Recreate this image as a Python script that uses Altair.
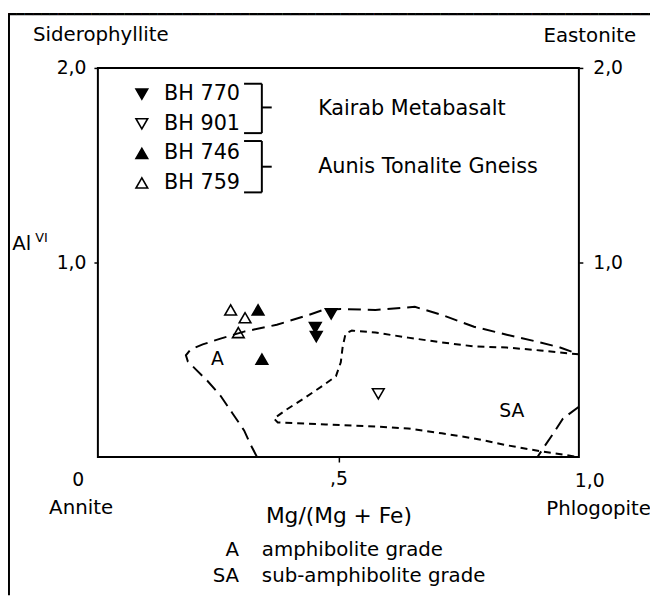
import altair as alt
import pandas as pd

FONT = "DejaVu Sans"

# ---------------- data ----------------
samples = ["BH 770", "BH 901", "BH 746", "BH 759"]
bh770_x = [0.485, 0.452, 0.454]
bh770_y = [0.736, 0.665, 0.619]
bh901_x = [0.583]
bh901_y = [0.325]
bh746_x = [0.333, 0.341]
bh746_y = [0.756, 0.503]
bh759_x = [0.276, 0.306, 0.292]
bh759_y = [0.756, 0.716, 0.640]

# amphibolite-grade field boundary (long dashes)
a_main_x = [0.331, 0.316, 0.304, 0.279, 0.255, 0.228, 0.203, 0.187, 0.183, 0.193,
            0.218, 0.255, 0.304, 0.372, 0.439, 0.468, 0.505, 0.577, 0.659, 0.715,
            0.782, 0.850, 0.920, 0.961, 1.000]
a_main_y = [0.000, 0.071, 0.137, 0.228, 0.315, 0.391, 0.452, 0.492, 0.523, 0.553,
            0.579, 0.609, 0.645, 0.680, 0.731, 0.756, 0.761, 0.756, 0.772, 0.731,
            0.670, 0.629, 0.589, 0.563, 0.528]
a_right_x = [1.000, 0.967, 0.947, 0.926, 0.914]
a_right_y = [0.259, 0.198, 0.122, 0.046, 0.000]

# sub-amphibolite-grade field boundary (short dashes)
sa_x = [1.000, 0.920, 0.850, 0.782, 0.715, 0.645, 0.577, 0.528, 0.515, 0.509,
        0.505, 0.495, 0.470, 0.427, 0.392, 0.366, 0.374, 0.474, 0.577, 0.645,
        0.715, 0.782, 0.850, 0.920, 1.000]
sa_y = [0.528, 0.548, 0.563, 0.569, 0.589, 0.614, 0.640, 0.650, 0.635, 0.569,
        0.487, 0.416, 0.371, 0.299, 0.244, 0.198, 0.178, 0.168, 0.157, 0.147,
        0.122, 0.096, 0.061, 0.030, 0.000]

# ---------------- tables ----------------
pts = pd.concat([
    pd.DataFrame({"x": bh770_x, "y": bh770_y, "sample": "BH 770"}),
    pd.DataFrame({"x": bh901_x, "y": bh901_y, "sample": "BH 901"}),
    pd.DataFrame({"x": bh746_x, "y": bh746_y, "sample": "BH 746"}),
    pd.DataFrame({"x": bh759_x, "y": bh759_y, "sample": "BH 759"}),
], ignore_index=True)

a_df = pd.concat([
    pd.DataFrame({"x": a_main_x, "y": a_main_y, "seg": "main", "o": range(len(a_main_x))}),
    pd.DataFrame({"x": a_right_x, "y": a_right_y, "seg": "right", "o": range(len(a_right_x))}),
], ignore_index=True)
sa_df = pd.DataFrame({"x": sa_x, "y": sa_y, "o": range(len(sa_x))})

W, H = 487, 394
xs = alt.Scale(domain=[0, 1], nice=False, zero=False)
ys = alt.Scale(domain=[0, 2], nice=False, zero=False)

one = pd.DataFrame({"d": [0]})

legend = alt.Legend(
    orient="none", legendX=34, legendY=16, title=None,
    labelFont=FONT, labelFontSize=21, labelColor="black", labelOffset=12,
    symbolSize=140, symbolStrokeColor="black", symbolStrokeWidth=1.6,
    symbolOpacity=1, rowPadding=8, padding=0,
)

points = alt.Chart(pts).mark_point(
    filled=True, opacity=1, size=140, strokeWidth=1.6
).encode(
    x=alt.X("x:Q", scale=xs, axis=alt.Axis(
        values=[0.5], labelExpr="',5'", tickSize=5, tickWidth=1.5, tickColor="black",
        labelPadding=8, labelFont=FONT, labelFontSize=19, labelColor="black",
        domain=False, grid=False, title="Mg/(Mg + Fe)", titleFont=FONT,
        titleFontSize=22, titleFontWeight="normal", titleColor="black", titlePadding=17)),
    y=alt.Y("y:Q", scale=ys, axis=alt.Axis(
        values=[1, 2], labelExpr="datum.value == 2 ? '2,0' : '1,0'",
        tickSize=4, tickWidth=1.5, tickColor="black",
        labelPadding=8, labelFont=FONT, labelFontSize=19, labelColor="black",
        domain=False, grid=False, title=None)),
    shape=alt.Shape("sample:N", scale=alt.Scale(
        domain=samples, range=["triangle-down", "triangle-down", "triangle-up", "triangle-up"]),
        legend=legend),
    fill=alt.Fill("sample:N", scale=alt.Scale(
        domain=samples, range=["black", "white", "black", "white"]), legend=legend),
    stroke=alt.Stroke("sample:N", scale=alt.Scale(
        domain=samples, range=["black", "black", "black", "black"]), legend=legend),
)

right_axis = alt.Chart(pts).mark_point(opacity=0).encode(
    y=alt.Y("y:Q", scale=ys, axis=alt.Axis(
        orient="right", values=[1, 2], labelExpr="datum.value == 2 ? '2,0' : '1,0'",
        tickSize=4, tickWidth=1.5, tickColor="black",
        labelPadding=10, labelFont=FONT, labelFontSize=19, labelColor="black",
        domain=False, grid=False, title=None)),
    x=alt.value(0),
)

a_lines = alt.Chart(a_df).mark_line(
    color="black", strokeWidth=2, strokeDash=[13, 7]
).encode(x=alt.X("x:Q", scale=xs), y=alt.Y("y:Q", scale=ys, axis=None),
         detail="seg:N", order="o:Q")

sa_lines = alt.Chart(sa_df).mark_line(
    color="black", strokeWidth=2, strokeDash=[7, 5]
).encode(x=alt.X("x:Q", scale=xs), y=alt.Y("y:Q", scale=ys, axis=None), order="o:Q")


def txt(s, x, y, size=20, align="center", baseline="middle", font=FONT):
    return alt.Chart(one).mark_text(
        text=s, font=font, fontSize=size, align=align, baseline=baseline, color="black"
    ).encode(x=alt.value(x), y=alt.value(y))


def seg(x1, y1, x2, y2, w=2):
    return alt.Chart(one).mark_rule(color="black", strokeWidth=w).encode(
        x=alt.value(x1), y=alt.value(y1), x2=alt.value(x2), y2=alt.value(y2))


texts = [
    txt("Siderophyllite", 3, -33),
    txt("Eastonite", 498, -32),
    txt("0", -20, 417, 19),
    txt("1,0", 498, 418, 19),
    txt("Annite", -17, 446),
    txt("Phlogopite", 507, 447),
    txt("Al", -77, 178, 20),
    txt("VI", -57, 172, 13),
    txt("Kairab Metabasalt", 223, 42, 21, "left"),
    txt("Aunis Tonalite Gneiss", 223, 100, 21, "left"),
    txt("A", 121, 295, 19),
    txt("SA", 419, 347, 19),
    txt("A", 143, 488, 20, "right"),
    txt("amphibolite grade", 166, 488, 20, "left"),
    txt("SA", 143, 514, 20, "right"),
    txt("sub-amphibolite grade", 166, 514, 20, "left"),
]

# top edge of the outer frame (drawn as a run of heavy box-drawing strokes)
top_frame = txt("\u2501" * 78, -91, -54, 14, "left", "middle", "DejaVu Sans Mono")

rules = [
    # brackets
    seg(148, 16, 166, 16), seg(166, 16, 166, 66), seg(148, 66, 166, 66), seg(166, 40, 176, 40),
    seg(148, 74, 166, 74), seg(166, 74, 166, 126), seg(148, 126, 166, 126), seg(166, 100, 176, 100),
    # left edge of the outer frame
    seg(-90, -55, -90, 534),
]

chart = alt.layer(
    points, right_axis, a_lines, sa_lines, *texts, *rules, top_frame
).resolve_axis(y="independent").properties(
    width=W, height=H,
    padding={"left": 91, "top": 57, "right": 72, "bottom": 140},
    autosize=alt.AutoSizeParams(type="none"),
).configure(
    background="white",
    view=alt.ViewConfig(stroke="black", strokeWidth=2),
)

chart.save("out.html", embed_options={"renderer": "svg", "actions": False})
